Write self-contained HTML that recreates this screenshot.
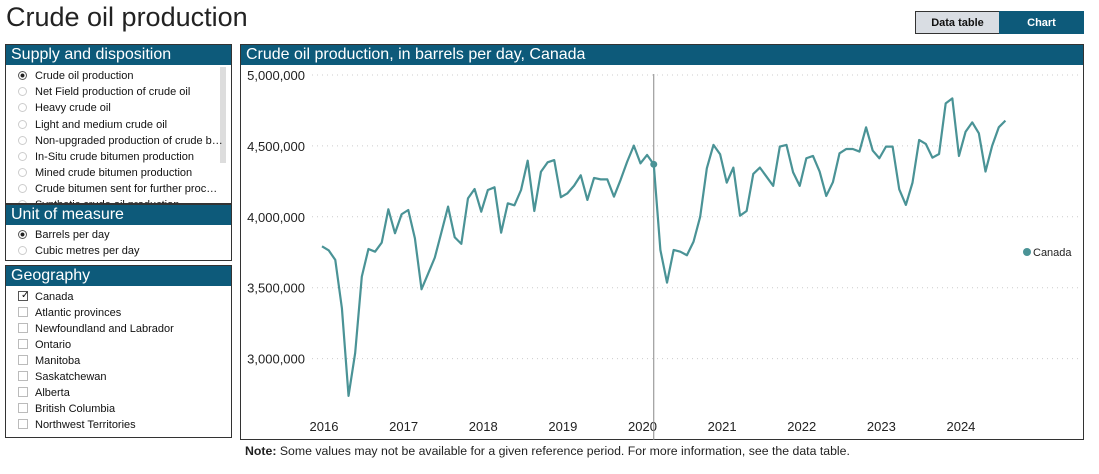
<!DOCTYPE html>
<html><head><meta charset="utf-8"><style>
body{margin:0;width:1099px;height:474px;background:#fff;font-family:"Liberation Sans",Arial,sans-serif;position:relative;overflow:hidden}
.abs{position:absolute}
.hdr{background:#0d5a7a;color:#fff;font-size:16px;height:20px;line-height:20px;padding-left:5px;box-sizing:border-box}
.panel{position:absolute;border:1px solid #333;box-sizing:border-box;background:#fff}
.item{position:absolute;left:12px;font-size:11px;color:#111;height:16px;line-height:16px}
.rad{display:inline-block;width:9px;height:9px;border:1px solid #ccc;border-radius:50%;vertical-align:-1px;margin-right:8px;box-sizing:border-box}
.rad.on{border-color:#555;background:radial-gradient(circle,#222 35%,#fff 45%)}
.chk{display:inline-block;width:10px;height:10px;border:1px solid #bbb;vertical-align:-1px;margin-right:7px;box-sizing:border-box;position:relative}
.btn{position:absolute;top:11px;height:23px;line-height:23px;font-size:11px;font-weight:bold;text-align:center;box-sizing:border-box}
</style></head><body>
<div class="abs" style="left:6px;top:2px;font-size:27px;color:#222">Crude oil production</div>
<div class="btn" style="left:915px;width:85px;background:#d9dde3;border:1px solid #333;color:#111">Data table</div>
<div class="btn" style="left:999px;width:85px;background:#0d5a7a;border:1px solid #0d5a7a;color:#fff">Chart</div>

<div class="panel" style="left:5px;top:44px;width:227px;height:160px;overflow:hidden">
<div class="hdr">Supply and disposition</div>
<div class="abs" style="left:214px;top:22px;width:6px;height:96px;background:#ddd"></div>
<div class="item" style="top:23px"><span class="rad on"></span>Crude oil production</div>
<div class="item" style="top:39px"><span class="rad"></span>Net Field production of crude oil</div>
<div class="item" style="top:55px"><span class="rad"></span>Heavy crude oil</div>
<div class="item" style="top:72px"><span class="rad"></span>Light and medium crude oil</div>
<div class="item" style="top:88px"><span class="rad"></span>Non-upgraded production of crude b…</div>
<div class="item" style="top:104px"><span class="rad"></span>In-Situ crude bitumen production</div>
<div class="item" style="top:120px"><span class="rad"></span>Mined crude bitumen production</div>
<div class="item" style="top:136px"><span class="rad"></span>Crude bitumen sent for further proc…</div>
<div class="item" style="top:152px"><span class="rad"></span>Synthetic crude oil production</div>
</div>

<div class="panel" style="left:5px;top:204px;width:227px;height:57px">
<div class="hdr">Unit of measure</div>
<div class="item" style="top:22px"><span class="rad on"></span>Barrels per day</div>
<div class="item" style="top:38px"><span class="rad"></span>Cubic metres per day</div>
</div>

<div class="panel" style="left:5px;top:265px;width:227px;height:173px">
<div class="hdr">Geography</div>
<div class="item" style="top:23px"><span class="chk" style="border-color:#555"><span style="position:absolute;left:2px;top:-4px;font-size:10px;color:#111">✓</span></span>Canada</div>
<div class="item" style="top:39px"><span class="chk"></span>Atlantic provinces</div>
<div class="item" style="top:55px"><span class="chk"></span>Newfoundland and Labrador</div>
<div class="item" style="top:71px"><span class="chk"></span>Ontario</div>
<div class="item" style="top:87px"><span class="chk"></span>Manitoba</div>
<div class="item" style="top:103px"><span class="chk"></span>Saskatchewan</div>
<div class="item" style="top:119px"><span class="chk"></span>Alberta</div>
<div class="item" style="top:135px"><span class="chk"></span>British Columbia</div>
<div class="item" style="top:151px"><span class="chk"></span>Northwest Territories</div>
</div>

<div class="panel" style="left:240px;top:44px;width:844px;height:396px">
<div class="hdr">Crude oil production, in barrels per day, Canada</div>
</div>
<svg class="abs" style="left:0;top:0" width="1099" height="474" id="svg"></svg>
<div class="abs" style="left:245px;top:444px;font-size:12.3px;color:#222"><b>Note:</b> Some values may not be available for a given reference period. For more information, see the data table.</div>

<script>
const years=["2016","2017","2018","2019","2020","2021","2022","2023","2024"];
const yTicks=[3000000,3500000,4000000,4500000,5000000];
const yTickLabels=["3,000,000","3,500,000","4,000,000","4,500,000","5,000,000"];
const seriesName="Canada";
const values=[3.792,3.764,3.696,3.355,2.737,3.04,3.578,3.773,3.754,3.818,4.053,3.884,
4.018,4.048,3.849,3.489,3.60,3.712,3.891,4.072,3.856,3.809,4.13,4.196,
4.036,4.189,4.208,3.888,4.095,4.081,4.189,4.396,4.041,4.318,4.384,4.40,
4.138,4.166,4.22,4.293,4.119,4.274,4.264,4.264,4.142,4.26,4.389,4.502,
4.377,4.436,4.37,3.766,3.536,3.766,3.754,3.729,3.825,4.001,4.342,4.507,
4.441,4.241,4.347,4.008,4.041,4.302,4.347,4.283,4.218,4.495,4.507,4.314,
4.218,4.413,4.429,4.319,4.147,4.244,4.448,4.478,4.478,4.46,4.631,4.467,
4.413,4.495,4.495,4.194,4.084,4.241,4.542,4.514,4.417,4.443,4.80,4.835,
4.429,4.60,4.666,4.589,4.319,4.50,4.631,4.678];
const highlightIndex=50;
const svg=document.getElementById('svg');
const NS='http://www.w3.org/2000/svg';
const x=i=>322+i*6.635;
const y=v=>75+(5000000-v)/500000*70.9;
function mk(tag,attrs,txt){const e=document.createElementNS(NS,tag);for(const k in attrs)e.setAttribute(k,attrs[k]);if(txt!=null)e.textContent=txt;svg.appendChild(e);return e;}
yTicks.forEach((t,i)=>{
 const g=mk('line',{x1:312,x2:1080,y1:y(t),y2:y(t),stroke:'#ccc','stroke-dasharray':'1,4'});
 
 
 const l=mk('text',{x:305,y:y(t)+5,'text-anchor':'end','font-size':13,fill:'#222','font-family':'Liberation Sans'},yTickLabels[i]);
 
 
});
years.forEach((yr,i)=>{
 const l=mk('text',{x:x(i*12)+2,y:431,'text-anchor':'middle','font-size':13,fill:'#222','font-family':'Liberation Sans'},yr);
 
 
});
const vl=mk('line',{x1:x(highlightIndex),x2:x(highlightIndex),y1:74,y2:440,stroke:'#888','stroke-width':1});


const p=mk('polyline',{points:values.map((v,i)=>x(i)+','+y(v*1e6)).join(' '),fill:'none',stroke:'#4a9396','stroke-width':2.2,'stroke-linejoin':'round'});


const d=mk('circle',{cx:x(highlightIndex),cy:y(values[highlightIndex]*1e6),r:3.5,fill:'#4a9396'});


const lm=mk('circle',{cx:1027,cy:252,r:4,fill:'#4a9396'});


const lt=mk('text',{x:1033,y:256,'font-size':11,fill:'#222','font-family':'Liberation Sans'},seriesName);


</script>
</body></html>
